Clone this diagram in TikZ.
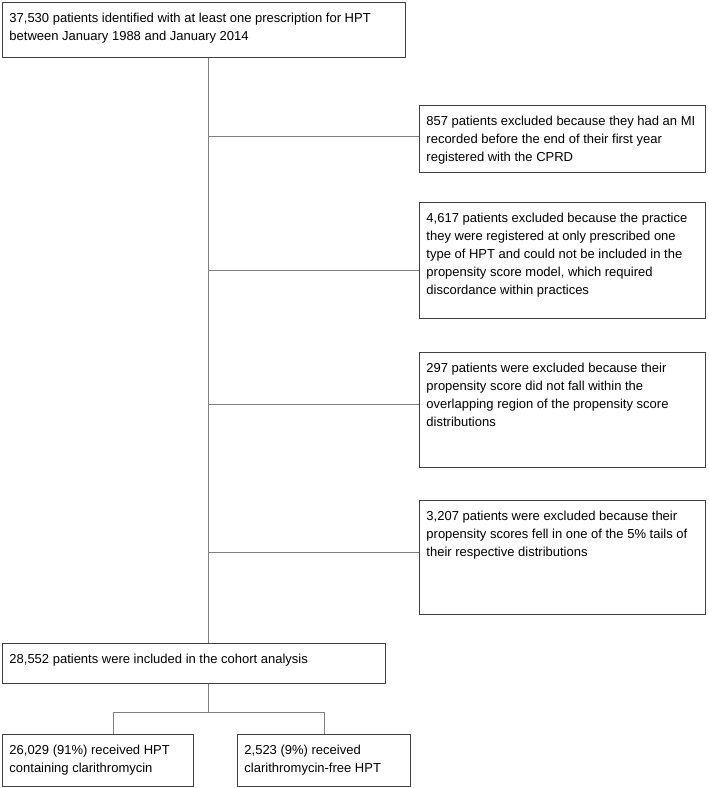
\documentclass[tikz,border=0pt]{standalone}
\usepackage{fontspec}
\setmainfont{Liberation Sans}
\usepackage{tikz}

% text inside a fixed size box, top left
\newcommand{\flowtext}[3]{\parbox[c][#2][t]{#1}{\raggedright\leftskip=7pt\rule{0pt}{20.5pt}#3}}

\begin{document}
\begin{tikzpicture}[x=1pt,y=-1pt,
    flowbox/.style={draw=black!75,line width=0.9pt,inner sep=0pt,anchor=north west,
      font=\fontsize{13}{18}\selectfont},
    link/.style={draw=black!50,line width=0.9pt}]
  \useasboundingbox (0,0) rectangle (709,788);

  \node[flowbox] (top) at (2,2)
    {\flowtext{403pt}{55pt}{37,530 patients identified with at least one prescription for HPT\\
      between January 1988 and January 2014}};

  % exclusions
  \node[flowbox] (ex1) at (419,105)
    {\flowtext{286pt}{67pt}{857 patients excluded because they had an MI\\
      recorded before the end of their first year\\
      registered with the CPRD}};
  \node[flowbox] (ex2) at (419,202)
    {\flowtext{286pt}{116pt}{4,617 patients excluded because the practice\\
      they were registered at only prescribed one\\
      type of HPT and could not be included in the\\
      propensity score model, which required\\
      discordance within practices}};
  \node[flowbox] (ex3) at (419,352)
    {\flowtext{286pt}{115pt}{297 patients were excluded because their\\
      propensity score did not fall within the\\
      overlapping region of the propensity score\\
      distributions}};
  \node[flowbox] (ex4) at (419,500)
    {\flowtext{286pt}{114pt}{3,207 patients were excluded because their\\
      propensity scores fell in one of the 5\% tails of\\
      their respective distributions}};

  % cohort and split
  \node[flowbox] (cohort) at (2,643)
    {\flowtext{383pt}{40pt}{28,552 patients were included in the cohort analysis}};
  \node[flowbox] (clari) at (2,734)
    {\flowtext{191pt}{52pt}{26,029 (91\%) received HPT\\
      containing clarithromycin}};
  \node[flowbox] (free) at (237,734)
    {\flowtext{173pt}{52pt}{2,523 (9\%) received\\
      clarithromycin-free HPT}};

  \coordinate (trunk) at (208,0);
  \draw[link] (top.south -| trunk) -- (cohort.north -| trunk);
  \foreach \n/\dy in {1/2.5,2/-10,3/5.5,4/5} {
      \draw[link] ([yshift=\dy pt]ex\n.west) coordinate (b\n) -- (b\n -| trunk);
  }
  \draw[link] (cohort.south -| trunk) -- ++(0,29) coordinate (split);
  \draw[link] ([xshift=15pt]clari.north) |- (split) -| (free.north);
\end{tikzpicture}
\end{document}
